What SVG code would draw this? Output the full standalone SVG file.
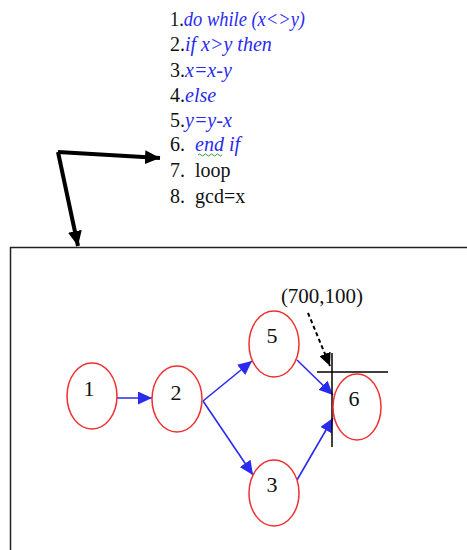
<svg xmlns="http://www.w3.org/2000/svg" width="467" height="550" viewBox="0 0 467 550">
<defs>
<style>
.code{font-family:"Liberation Serif","Times New Roman",serif;font-size:20px;fill:#111}
.kw{fill:#2a2af0;font-style:italic}
.node ellipse{fill:#fff;stroke:#f03030;stroke-width:1.5}
.node text{font-family:"Liberation Serif","Times New Roman",serif;font-size:22px;fill:#111;text-anchor:middle}
.edge{stroke:#2a2af0;stroke-width:1.6;fill:none;marker-end:url(#bh)}
.thick{stroke:#000;stroke-width:4;fill:none;stroke-linejoin:miter}
</style>
<marker id="bh" markerUnits="userSpaceOnUse" markerWidth="15" markerHeight="13" refX="14" refY="6.5" orient="auto"><path d="M0,0 L14,6.5 L0,13 Z" fill="#2a2af0"/></marker>
<marker id="kh" markerUnits="userSpaceOnUse" markerWidth="16" markerHeight="14" refX="15" refY="7" orient="auto"><path d="M0,0 L15,7 L0,14 Z" fill="#000"/></marker>
<marker id="dh" markerUnits="userSpaceOnUse" markerWidth="14" markerHeight="12" refX="13" refY="6" orient="auto"><path d="M0,0 L13,6 L0,12 Z" fill="#000"/></marker>
</defs>
<rect width="467" height="550" fill="#fff"/>
<g id="code">
<text class="code" x="170" y="26" textLength="135" lengthAdjust="spacingAndGlyphs">1.<tspan class="kw">do while (x&lt;&gt;y)</tspan></text>
<text class="code" x="170" y="51">2.<tspan class="kw">if x&gt;y then</tspan></text>
<text class="code" x="170" y="77">3.<tspan class="kw">x=x-y</tspan></text>
<text class="code" x="170" y="102">4.<tspan class="kw">else</tspan></text>
<text class="code" x="170" y="127">5.<tspan class="kw">y=y-x</tspan></text>
<text class="code" x="170" y="151" xml:space="preserve">6.  <tspan class="kw">end if</tspan></text>
<text class="code" x="170" y="177" xml:space="preserve">7.  loop</text>
<text class="code" x="170" y="203" xml:space="preserve">8.  gcd=x</text>
<path d="M198,155 q1.5,-2 3,0 t3,0 t3,0 t3,0 t3,0 t3,0 t3,0 t3,0" stroke="#3a9a3a" stroke-width="1" fill="none"/>
</g>
<g id="frame">
<path d="M10.5,550 L10.5,247.5 L467,247.5" stroke="#222" stroke-width="1.5" fill="none"/>
</g>
<g id="connectors">
<path class="thick" d="M58,152 L160,158" marker-end="url(#kh)"/>
<path class="thick" d="M58,152 L78,246" marker-end="url(#kh)"/>
<line class="edge" x1="116" y1="398" x2="152" y2="398"/>
<line class="edge" x1="203" y1="401" x2="252" y2="361"/>
<line class="edge" x1="203" y1="401" x2="253" y2="475"/>
<line class="edge" x1="297" y1="360" x2="333" y2="395"/>
<line class="edge" x1="297" y1="480" x2="333" y2="418"/>
<line x1="308" y1="313" x2="330" y2="366" stroke="#000" stroke-width="2" stroke-dasharray="4,3" marker-end="url(#dh)"/>
<line x1="332" y1="353" x2="332" y2="447" stroke="#000" stroke-width="1.5"/>
<line x1="317" y1="372" x2="388" y2="372" stroke="#000" stroke-width="1.5"/>
</g>
<text x="322" y="303" font-family="Liberation Serif,Times New Roman,serif" font-size="21" fill="#111" text-anchor="middle">(700,100)</text>
<g id="n1" class="node"><ellipse cx="92" cy="396" rx="25" ry="33"/><text x="89" y="396">1</text></g>
<g id="n2" class="node"><ellipse cx="177" cy="399" rx="25" ry="33"/><text x="176" y="400">2</text></g>
<g id="n5" class="node"><ellipse cx="274" cy="344" rx="25" ry="33"/><text x="272" y="343">5</text></g>
<g id="n3" class="node"><ellipse cx="274" cy="493" rx="25" ry="33"/><text x="272" y="492">3</text></g>
<g id="n6" class="node"><ellipse cx="357" cy="407" rx="24" ry="33"/><text x="354" y="406">6</text></g>
</svg>
